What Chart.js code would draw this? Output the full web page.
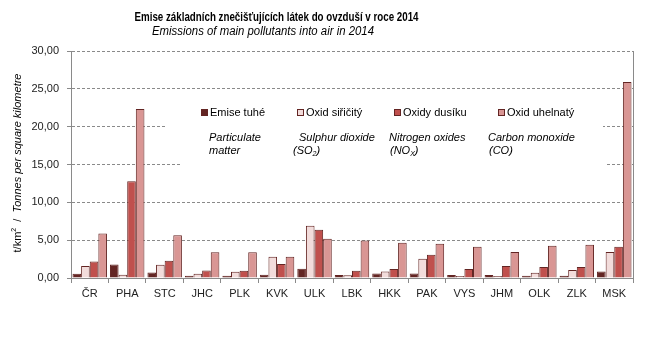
<!DOCTYPE html>
<html>
<head>
<meta charset="utf-8">
<script src="https://cdn.jsdelivr.net/npm/chart.js@4/dist/chart.umd.min.js"></script>
<style>
  html, body { margin: 0; padding: 0; background: #fff; }
  #wrap { width: 645px; height: 340px; }
</style>
</head>
<body>
<div id="wrap"><canvas id="emiseChart" width="645" height="340"></canvas></div>
<script>
const kraje = ['ČR', 'PHA', 'STC', 'JHC', 'PLK', 'KVK', 'ULK', 'LBK', 'HKK', 'PAK', 'VYS', 'JHM', 'OLK', 'ZLK', 'MSK'];
const emiseTuhe    = [0.56, 1.79, 0.73, 0.29, 0.29, 0.44, 1.23, 0.40, 0.60, 0.60, 0.40, 0.40, 0.29, 0.29, 0.86];
const oxidSiricity = [1.60, 0.42, 1.75, 0.56, 0.82, 2.80, 6.90, 0.35, 0.86, 2.55, 0.27, 0.27, 0.68, 1.06, 3.45];
const oxidyDusiku  = [2.18, 12.80, 2.28, 1.00, 0.96, 1.86, 6.37, 0.96, 1.20, 3.08, 1.20, 1.60, 1.46, 1.46, 4.12];
const oxidUhelnaty = [5.88, 22.35, 5.64, 3.39, 3.39, 2.80, 5.18, 4.94, 4.67, 4.54, 4.12, 3.45, 4.25, 4.38, 25.90];
const yTicks = [0, 5, 10, 15, 20, 25, 30];

const nazvy = ['Emise tuhé', 'Oxid siřičitý', 'Oxidy dusíku', 'Oxid uhelnatý'];
const barvy = ['#632523', '#f2dcdb', '#c0504d', '#d99694'];
const okraj = '#632523';
const osa = '#8a8a8a';
const pismo = "'Liberation Sans', Arial, sans-serif";

// titles, legend box, axis title and right frame line
const popisky = {
  id: 'popisky',
  beforeDatasetsDraw(chart) {
    const ctx = chart.ctx;
    ctx.save();
    ctx.fillStyle = '#fff';
    ctx.fillRect(166, 104, 437, 27);
    ctx.fillRect(182, 131, 425, 38);
    ctx.restore();
  },
  afterDraw(chart) {
    const ctx = chart.ctx;
    const a = chart.chartArea;
    ctx.save();

    ctx.strokeStyle = osa;
    ctx.lineWidth = 1;
    ctx.beginPath();
    ctx.moveTo(Math.round(a.right) + 0.5, a.top);
    ctx.lineTo(Math.round(a.right) + 0.5, a.bottom);
    ctx.stroke();

    ctx.fillStyle = '#000';
    ctx.textAlign = 'center';
    ctx.textBaseline = 'alphabetic';
    ctx.font = 'bold 12px ' + pismo;
    ctx.fillText('Emise základních znečišťujících látek do ovzduší v roce 2014', 276.5, 21, 284);
    ctx.font = 'italic 12px ' + pismo;
    ctx.fillText('Emissions of main pollutants into air in 2014', 263, 35, 222);

    // legend
    const lx = [201, 297, 394, 498];
    ctx.textAlign = 'left';
    ctx.textBaseline = 'middle';
    ctx.font = '11px ' + pismo;
    nazvy.forEach((n, i) => {
      ctx.fillStyle = barvy[i];
      ctx.fillRect(lx[i] + 0.5, 109.5, 6, 6);
      ctx.strokeStyle = okraj;
      ctx.strokeRect(lx[i] + 0.5, 109.5, 6, 6);
      ctx.fillStyle = '#000';
      ctx.fillText(n, lx[i] + 9, 113);
    });

    // english names under the legend
    ctx.font = 'italic 11px ' + pismo;
    ctx.fillText('Particulate', 209, 138);
    ctx.fillText('matter', 209, 151);
    ctx.fillText('Sulphur dioxide', 299, 138);
    ctx.fillText('Nitrogen oxides', 389, 138);
    ctx.fillText('Carbon monoxide', 488, 138);
    ctx.fillText('(CO)', 489, 151);
    const sub = (x, y, base, s, end) => {
      ctx.font = 'italic 11px ' + pismo;
      ctx.fillText(base, x, y);
      let w = ctx.measureText(base).width;
      ctx.font = 'italic 7px ' + pismo;
      ctx.fillText(s, x + w, y + 3);
      w += ctx.measureText(s).width;
      ctx.font = 'italic 11px ' + pismo;
      ctx.fillText(end, x + w, y);
    };
    sub(293, 151, '(SO', '2', ')');
    sub(390, 151, '(NO', 'X', ')');

    // y axis title
    ctx.translate(18, 163);
    ctx.rotate(-Math.PI / 2);
    ctx.textBaseline = 'middle';
    const p1 = 't/km';
    const p2 = '  /  ';
    const p3 = 'Tonnes per square kilometre';
    ctx.font = '11px ' + pismo;
    const w1 = ctx.measureText(p1).width;
    const w2 = ctx.measureText(p2).width;
    ctx.font = '7px ' + pismo;
    const wSup = ctx.measureText('2').width;
    ctx.font = 'italic 11px ' + pismo;
    const w3 = ctx.measureText(p3).width;
    let x = -(w1 + wSup + w2 + w3) / 2;
    ctx.fillStyle = '#000';
    ctx.font = '11px ' + pismo;
    ctx.fillText(p1, x, 0);
    x += w1;
    ctx.font = '7px ' + pismo;
    ctx.fillText('2', x, -4);
    x += wSup;
    ctx.font = '11px ' + pismo;
    ctx.fillText(p2, x, 0);
    x += w2;
    ctx.font = 'italic 11px ' + pismo;
    ctx.fillText(p3, x, 0);

    ctx.restore();
  }
};

const ctx = document.getElementById('emiseChart').getContext('2d');
new Chart(ctx, {
  type: 'bar',
  data: {
    labels: kraje,
    datasets: [emiseTuhe, oxidSiricity, oxidyDusiku, oxidUhelnaty].map((d, i) => ({
      label: nazvy[i],
      data: d,
      backgroundColor: barvy[i],
      borderColor: okraj,
      borderWidth: 1,
      categoryPercentage: 0.92,
      barPercentage: 1.0
    }))
  },
  options: {
    responsive: false,
    animation: false,
    layout: { padding: { top: 51, right: 12, bottom: 0, left: 0 } },
    plugins: {
      legend: { display: false },
      title: { display: false },
      tooltip: { enabled: false }
    },
    scales: {
      x: {
        afterFit: s => { s.height = 62; },
        grid: {
          offset: true,
          drawOnChartArea: false,
          drawTicks: true,
          tickLength: 5,
          color: osa
        },
        border: { color: osa },
        ticks: {
          color: '#222',
          padding: 4,
          font: { family: pismo, size: 11 }
        }
      },
      y: {
        min: 0,
        max: 30,
        afterFit: s => { s.width = 71; },
        afterBuildTicks: s => { s.ticks = yTicks.map(v => ({ value: v })); },
        grid: {
          color: osa,
          tickLength: 4,
          tickColor: osa,
          tickBorderDash: []
        },
        border: { color: osa, dash: [3, 2] },
        ticks: {
          color: '#222',
          padding: 8,
          font: { family: pismo, size: 11 },
          callback: v => v.toFixed(2).replace('.', ',')
        }
      }
    }
  },
  plugins: [popisky]
});
</script>
</body>
</html>
